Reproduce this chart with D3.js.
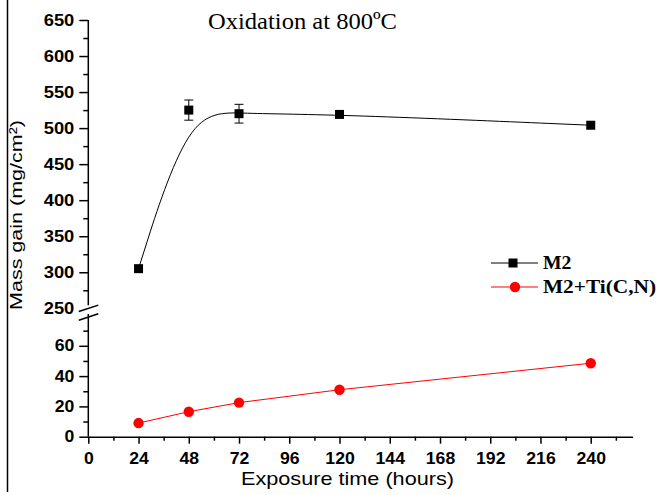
<!DOCTYPE html>
<html>
<head>
<meta charset="utf-8">
<script src="https://cdn.jsdelivr.net/npm/d3@7"></script>
<style>
  body { margin: 0; background: #fff; }
  svg { display: block; }
</style>
</head>
<body>
<div class="d3-content"></div>
<script>
// data
const hours = [24, 48, 72, 120, 240];
const m2Gain = [305, 525, 520, 519, 504];
const m2Err = [0, 14, 13, 0, 0];
const m2TiGain = [9, 16.5, 22.5, 31, 48.5];

const xTicks = [0, 24, 48, 72, 96, 120, 144, 168, 192, 216, 240];
const xMinorTicks = [12, 36, 60, 84, 108, 132, 156, 180, 204, 228, 252];
const yUpperTicks = [250, 300, 350, 400, 450, 500, 550, 600, 650];
const yUpperMinor = [275, 325, 375, 425, 475, 525, 575, 625];
const yLowerTicks = [0, 20, 40, 60];
const yLowerMinor = [10, 30, 50, 70];

const seriesNames = ['M2', 'M2+Ti(C,N)'];
const titleText = 'Oxidation at 800ºC';
const xTitle = 'Exposure time (hours)';
const yTitle = 'Mass gain (mg/cm²)';

/************************/
/*      Dimensions      */
/************************/
const width = 660;
const height = 495;
const margin = { top: 20, left: 88.3, right: 27.4, bottom: 58.3 };
const innerRight = width - margin.right;
const innerBottom = height - margin.bottom;

const black = '#000';
const red = '#ff0000';
const sans = '"Liberation Sans", Arial, sans-serif';
const serif = '"Liberation Serif", "Times New Roman", serif';

/************************/
/*        Scales        */
/************************/
const xScale = d3.scaleLinear()
  .domain([0, 260])
  .range([margin.left, innerRight]);

// broken y axis: upper part for M2, lower part for M2+Ti(C,N)
const yUpper = d3.scaleLinear()
  .domain([250, 650])
  .range([308.3, margin.top]);
const yLower = d3.scaleLinear()
  .domain([0, 80])
  .range([innerBottom, 315.5]);

const svg = d3.select('.d3-content')
  .append('svg')
    .attr('width', width)
    .attr('height', height);

// frame line on the left edge
svg.append('line')
  .attr('x1', 7.5).attr('x2', 7.5)
  .attr('y1', 0).attr('y2', 492)
  .attr('stroke', black)
  .attr('stroke-width', 1.5);

const styleAxis = (g, perChar) => {
  g.selectAll('path, line')
    .attr('stroke', black)
    .attr('stroke-width', 1.5);
  g.selectAll('text')
    .attr('fill', black)
    .attr('font-family', sans)
    .attr('font-weight', 'bold')
    .attr('font-size', 16)
    .attr('lengthAdjust', 'spacingAndGlyphs')
    .attr('textLength', function () { return this.textContent.length * perChar; });
};

/************************/
/*        X axis        */
/************************/
svg.append('g')
  .attr('transform', `translate(0, ${innerBottom})`)
  .call(d3.axisBottom(xScale)
    .tickValues(xTicks)
    .tickSize(7)
    .tickSizeOuter(0)
    .tickPadding(9))
  .call(g => styleAxis(g, 9.8));

svg.append('g')
  .attr('transform', `translate(0, ${innerBottom})`)
  .call(d3.axisBottom(xScale)
    .tickValues(xMinorTicks)
    .tickSize(4)
    .tickFormat(''))
  .call(g => g.select('.domain').remove())
  .call(g => styleAxis(g, 0));

/************************/
/*        Y axes        */
/************************/
const upperAxis = svg.append('g')
  .attr('transform', `translate(${margin.left}, 0)`)
  .call(d3.axisLeft(yUpper)
    .tickValues(yUpperTicks)
    .tickSize(9)
    .tickPadding(5))
  .call(g => g.select('.domain').remove())
  .call(g => styleAxis(g, 10.2));
// the 250 tick sits in the break marks
upperAxis.selectAll('.tick').filter(d => d === 250).select('line').remove();

svg.append('g')
  .attr('transform', `translate(${margin.left}, 0)`)
  .call(d3.axisLeft(yUpper)
    .tickValues(yUpperMinor)
    .tickSize(5)
    .tickFormat(''))
  .call(g => g.select('.domain').remove())
  .call(g => styleAxis(g, 0));

svg.append('g')
  .attr('transform', `translate(${margin.left}, 0)`)
  .call(d3.axisLeft(yLower)
    .tickValues(yLowerTicks)
    .tickSize(9)
    .tickPadding(5))
  .call(g => g.select('.domain').remove())
  .call(g => styleAxis(g, 9.8));

svg.append('g')
  .attr('transform', `translate(${margin.left}, 0)`)
  .call(d3.axisLeft(yLower)
    .tickValues(yLowerMinor)
    .tickSize(5)
    .tickFormat(''))
  .call(g => g.select('.domain').remove())
  .call(g => styleAxis(g, 0));

// axis line in two pieces with the break marks between them
const breakTop = yUpper(250);
const breakBottom = yLower(80);
svg.append('line')
  .attr('x1', margin.left).attr('x2', margin.left)
  .attr('y1', yUpper(650)).attr('y2', breakTop - 3)
  .attr('stroke', black).attr('stroke-width', 1.5);
svg.append('line')
  .attr('x1', margin.left).attr('x2', margin.left)
  .attr('y1', breakBottom - 1.5).attr('y2', innerBottom)
  .attr('stroke', black).attr('stroke-width', 1.5);

[breakTop, breakBottom + 1.5].forEach(cy => {
  svg.append('line')
    .attr('x1', margin.left - 9.5).attr('y1', cy + 3.2)
    .attr('x2', margin.left + 10).attr('y2', cy - 3.2)
    .attr('stroke', black)
    .attr('stroke-width', 1.5);
});

/************************/
/*        Series        */
/************************/
const m2Data = hours.map((h, i) => ({ x: h, y: m2Gain[i], err: m2Err[i] }));
const tiData = hours.map((h, i) => ({ x: h, y: m2TiGain[i] }));

// smoothed line for M2
svg.append('path')
  .datum(m2Data)
  .attr('fill', 'none')
  .attr('stroke', black)
  .attr('stroke-width', 1)
  .attr('d', d3.line()
    .x(d => xScale(d.x))
    .y(d => yUpper(d.y))
    .curve(d3.curveBasis));

// error bars
const errG = svg.append('g')
  .selectAll('g')
  .data(m2Data.filter(d => d.err > 0))
  .join('g')
    .attr('stroke', black)
    .attr('stroke-width', 1);
errG.append('line')
  .attr('x1', d => xScale(d.x)).attr('x2', d => xScale(d.x))
  .attr('y1', d => yUpper(d.y + d.err)).attr('y2', d => yUpper(d.y - d.err));
errG.append('line')
  .attr('x1', d => xScale(d.x) - 4.5).attr('x2', d => xScale(d.x) + 4.5)
  .attr('y1', d => yUpper(d.y + d.err)).attr('y2', d => yUpper(d.y + d.err));
errG.append('line')
  .attr('x1', d => xScale(d.x) - 4.5).attr('x2', d => xScale(d.x) + 4.5)
  .attr('y1', d => yUpper(d.y - d.err)).attr('y2', d => yUpper(d.y - d.err));

svg.append('g')
  .selectAll('rect')
  .data(m2Data)
  .join('rect')
    .attr('x', d => xScale(d.x) - 4.5)
    .attr('y', d => yUpper(d.y) - 4.5)
    .attr('width', 9)
    .attr('height', 9)
    .attr('fill', black);

// straight line for M2+Ti(C,N)
svg.append('path')
  .datum(tiData)
  .attr('fill', 'none')
  .attr('stroke', red)
  .attr('stroke-width', 1)
  .attr('d', d3.line()
    .x(d => xScale(d.x))
    .y(d => yLower(d.y)));

svg.append('g')
  .selectAll('circle')
  .data(tiData)
  .join('circle')
    .attr('cx', d => xScale(d.x))
    .attr('cy', d => yLower(d.y))
    .attr('r', 5.2)
    .attr('fill', red);

/************************/
/*        Legend        */
/************************/
const legend = svg.append('g')
  .attr('transform', 'translate(491, 263)');
const legendRows = legend.selectAll('g')
  .data(seriesNames)
  .join('g')
    .attr('transform', (d, i) => `translate(0, ${i * 24})`);
legendRows.append('line')
  .attr('x1', 0).attr('x2', 47)
  .attr('stroke', (d, i) => i === 0 ? black : red)
  .attr('stroke-width', 1);
legendRows.filter((d, i) => i === 0)
  .append('rect')
    .attr('x', 17.5).attr('y', -4.5)
    .attr('width', 9).attr('height', 9)
    .attr('fill', black);
legendRows.filter((d, i) => i === 1)
  .append('circle')
    .attr('cx', 24).attr('r', 5.2)
    .attr('fill', red);
legendRows.append('text')
  .text(d => d)
  .attr('x', 52)
  .attr('y', 6)
  .attr('font-family', serif)
  .attr('font-weight', 'bold')
  .attr('font-size', 18)
  .attr('lengthAdjust', 'spacingAndGlyphs')
  .attr('textLength', (d, i) => i === 0 ? 28.5 : 113);

/************************/
/*     Title, labels    */
/************************/
svg.append('text')
  .text(titleText)
  .attr('x', 208)
  .attr('y', 29)
  .attr('font-family', serif)
  .attr('font-size', 24)
  .attr('lengthAdjust', 'spacingAndGlyphs')
  .attr('textLength', 189);

svg.append('text')
  .text(xTitle)
  .attr('x', 241)
  .attr('y', 485)
  .attr('font-family', sans)
  .attr('font-size', 19)
  .attr('lengthAdjust', 'spacingAndGlyphs')
  .attr('textLength', 213);

svg.append('text')
  .text(yTitle)
  .attr('transform', 'translate(21.7, 215) rotate(-90)')
  .attr('text-anchor', 'middle')
  .attr('font-family', sans)
  .attr('font-size', 17)
  .attr('lengthAdjust', 'spacingAndGlyphs')
  .attr('textLength', 190);
</script>
</body>
</html>
